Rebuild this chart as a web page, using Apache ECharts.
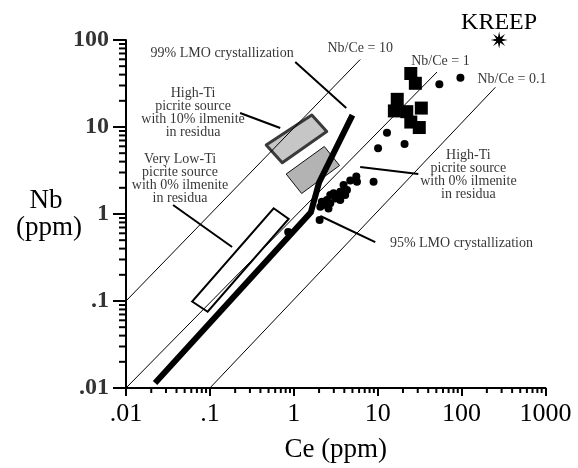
<!DOCTYPE html>
<html><head><meta charset="utf-8">
<script src="https://cdn.jsdelivr.net/npm/echarts@6/dist/echarts.min.js"></script>
<style>html,body{margin:0;padding:0;background:#fff}#c{width:578px;height:468px}</style>
</head><body><div id="c"></div>
<script>
const xTickLabels = ['.01', '.1', '1', '10', '100', '1000'];
const yTickLabels = ['.01', '.1', '1', '10', '100'];

const squares = [[24.8,41.2],[28.1,31.8],[17.1,20.8],[15.8,15.3],[22.2,15.0],[33.1,16.5],[24.8,11.4],[31.3,9.86]];
const circles = [[54.3,31.0],[96.8,36.9],[12.9,8.59],[10.1,5.69],[20.9,6.38],[8.93,2.35],
  [5.56,2.69],[4.71,2.42],[5.66,2.35],[3.92,2.15],[4.30,1.89],[3.58,1.80],[2.98,1.73],[2.72,1.65],
  [3.12,1.51],[2.48,1.45],[2.16,1.38],[2.72,1.33],[2.07,1.21],[2.59,1.16],[3.58,1.45],[4.10,1.65],
  [3.30,1.62],[2.35,1.28],[3.85,1.72],[2.03,0.853],[0.857,0.621]];
const kreep = [[280,100]];

const lmoPath = [[0.0222,0.0114],[1.6,1.05],[2.0,2.3],[5.0,13.7]];
const ratio10 = [[0.01,0.1],[6.19,59.7]];
const ratio1 = [[0.01,0.01],[51,42.9]];
const ratio01 = [[0.1,0.01],[253,28.6]];

const veryLowTiBox = [[0.0614,0.0987],[0.094,0.0753],[0.869,0.876],[0.575,1.163]];
const highTi10Box = [[0.469,6.21],[0.728,3.89],[2.47,8.87],[1.64,13.7]];
const highTi0Box = [[0.811,2.88],[1.24,1.72],[3.51,3.61],[2.31,5.97]];

const leader99 = [[1.04,55.9],[4.22,16.5]];
const leader95 = [[2.07,0.948],[9.35,0.476]];
const leaderHiTi0 = [[6.19,3.47],[30.5,2.88]];
const leaderHiTi10 = [[0.229,14.5],[0.689,9.75]];
const leaderVLT = [[0.0364,1.27],[0.184,0.418]];

const annotationTexts = ['99% LMO crystallization','95% LMO crystallization','Nb/Ce = 10','Nb/Ce = 1','Nb/Ce = 0.1',
  'High-Ti\npicrite source\nwith 10% ilmenite\nin residua',
  'Very Low-Ti\npicrite source\nwith 0% ilmenite\nin residua',
  'High-Ti\npicrite source\nwith 0% ilmenite\nin residua'];
const annotationPos = [[0.140,70.9],[99.5,0.464],[6.19,80.9],[55.9,56.4],[398,35.7],[0.063,14.5],[0.044,2.56],[120.5,2.84]];

const SERIF = '"Liberation Serif","Times New Roman",serif';

// minor tick values (axis structure)
const xMinor = [], yMinor = [];
for (let e = -2; e < 3; e++) for (let m = 2; m <= 9; m++) xMinor.push([m * Math.pow(10, e), 0.01]);
for (let e = -2; e < 2; e++) for (let m = 2; m <= 9; m++) yMinor.push([0.01, m * Math.pow(10, e)]);

// star symbol
let star = 'path://';
for (let i = 0; i < 16; i++) {
  const a = i * Math.PI / 8 - Math.PI / 2;
  const r = i % 2 === 0 ? 10 : 3.6;
  star += (i === 0 ? 'M' : 'L') + (10 + r * Math.cos(a)).toFixed(2) + ' ' + (10 + r * Math.sin(a)).toFixed(2) + ' ';
}
star += 'Z';

function lineSeries(data, width, z) {
  return { type: 'line', data: data, symbol: 'none', silent: true, z: z, clip: false,
    lineStyle: { color: '#000', width: width, cap: 'butt', join: 'round' } };
}
function polySeries(pts, style) {
  return { type: 'custom', coordinateSystem: 'cartesian2d', data: pts, silent: true, z: 1,
    renderItem: function (params, api) {
      if (params.dataIndex !== 0) return;
      return { type: 'polygon', shape: { points: pts.map(p => api.coord(p)) }, style: style };
    } };
}
function tickSeries(data, dx, dy) {
  return { type: 'custom', coordinateSystem: 'cartesian2d', data: data, silent: true, z: 5, clip: false,
    renderItem: function (params, api) {
      const p = api.coord([api.value(0), api.value(1)]);
      return { type: 'line', shape: { x1: p[0], y1: p[1], x2: p[0] + dx, y2: p[1] + dy },
        style: { stroke: '#000', lineWidth: 2 } };
    } };
}

const chart = echarts.init(document.getElementById('c'), null, { renderer: 'canvas' });
chart.setOption({
  animation: false,
  backgroundColor: '#fff',
  grid: { left: 126, right: 32.5, top: 40, bottom: 80 },
  xAxis: {
    type: 'log', logBase: 10, min: 0.01, max: 1000,
    name: 'Ce (ppm)', nameLocation: 'middle', nameGap: 48,
    nameTextStyle: { fontFamily: SERIF, fontSize: 27, color: '#000' },
    axisLine: { show: true, lineStyle: { color: '#000', width: 2 } },
    axisTick: { show: true, inside: false, length: 8, lineStyle: { color: '#000', width: 2 } },
    splitLine: { show: false }, minorTick: { show: false }, minorSplitLine: { show: false },
    axisLabel: { margin: 13, fontFamily: SERIF, fontSize: 26, color: '#000',
      formatter: v => xTickLabels[Math.round(Math.log10(v)) + 2] },
  },
  yAxis: {
    type: 'log', logBase: 10, min: 0.01, max: 100,
    axisLine: { show: true, lineStyle: { color: '#000', width: 2 } },
    axisTick: { show: true, inside: false, length: 13, lineStyle: { color: '#000', width: 2 } },
    splitLine: { show: false }, minorTick: { show: false },
    axisLabel: { margin: 17, fontFamily: SERIF, fontSize: 24, fontWeight: 'bold', color: '#333',
      formatter: v => yTickLabels[Math.round(Math.log10(v)) + 2] },
  },
  graphic: [
    { type: 'text', x: 46, y: 201, z: 10,
      style: { text: 'Nb', font: '27px ' + SERIF, fill: '#000', align: 'center', verticalAlign: 'middle' } },
    { type: 'text', x: 49, y: 228, z: 10,
      style: { text: '(ppm)', font: '27px ' + SERIF, fill: '#000', align: 'center', verticalAlign: 'middle' } }
  ],
  series: [
    polySeries(veryLowTiBox, { fill: '#fff', stroke: '#000', lineWidth: 2 }),
    polySeries(highTi10Box, { fill: '#c6c6c6', stroke: '#3a3a3a', lineWidth: 3, lineJoin: 'round' }),
    polySeries(highTi0Box, { fill: '#b3b3b3', stroke: '#111', lineWidth: 1 }),
    lineSeries(ratio10, 1, 2),
    lineSeries(ratio1, 1, 2),
    lineSeries(ratio01, 1, 2),
    lineSeries(leader99, 2, 2),
    lineSeries(leader95, 2, 2),
    lineSeries(leaderHiTi0, 2, 2),
    lineSeries(leaderHiTi10, 2, 2),
    lineSeries(leaderVLT, 2, 2),
    lineSeries(lmoPath, 6, 3),
    { type: 'scatter', data: circles, symbol: 'circle', symbolSize: 8, z: 4, clip: false, silent: true,
      itemStyle: { color: '#000', opacity: 1 } },
    { type: 'scatter', data: squares, symbol: 'rect', symbolSize: 13, z: 4, clip: false, silent: true,
      itemStyle: { color: '#000', opacity: 1 } },
    { type: 'scatter', data: kreep, symbol: star, symbolSize: 17, z: 4, clip: false, silent: true,
      itemStyle: { color: '#000', opacity: 1 },
      label: { show: true, position: 'top', distance: -3, formatter: 'KREEP',
        fontFamily: SERIF, fontSize: 24, color: '#000' } },
    { type: 'scatter', symbolSize: 0, z: 6, clip: false, silent: true,
      data: annotationPos.map((p, i) => ({ value: p, label: { formatter: annotationTexts[i] } })),
      label: { show: true, position: 'inside', fontFamily: SERIF, fontSize: 14, lineHeight: 13,
        color: '#000', align: 'center', verticalAlign: 'middle' } },
    tickSeries(xMinor, 0, 5),
    tickSeries(yMinor, -7, 0),
  ]
});
</script>
</body></html>
